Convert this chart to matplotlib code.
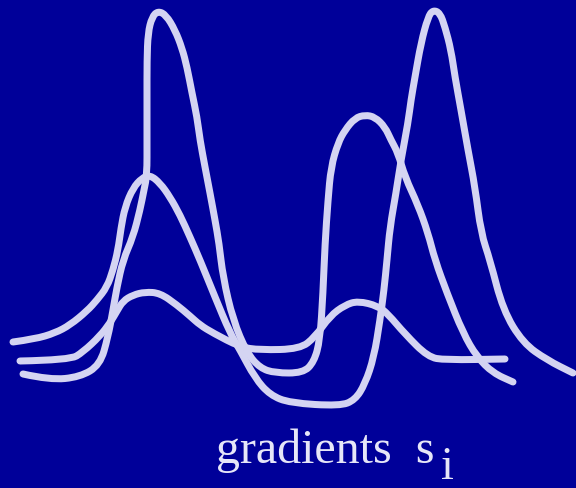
import matplotlib
matplotlib.use("Agg")
import matplotlib.pyplot as plt
from matplotlib.path import Path
from matplotlib.patches import PathPatch

# Three bimodal gradient profiles, heights measured from the bottom edge
low_x = [20, 70, 83, 100, 110, 117, 123, 133, 145, 160, 177, 190, 200, 213, 240, 260,
         300, 315, 330, 345, 358, 378, 388, 405, 428, 445, 505]
low_h = [127, 128, 136, 152, 165, 177, 187, 193, 196, 195, 183, 172, 163, 155, 141, 138,
         139, 151, 172, 183, 187, 182, 174, 154, 131, 128, 129]

mid_x = [13, 35, 55, 70, 87, 97, 107, 113, 118, 121, 125, 133, 142, 150, 160, 170, 180,
         190, 200, 215, 230, 240, 255, 270, 290, 340, 355, 365, 374, 380, 384, 387, 390,
         396, 401, 408, 411, 415, 421, 428, 433, 440, 445, 451, 455, 461, 468, 475, 481,
         490, 503, 523, 547, 573]
mid_h = [146, 149, 155, 163, 177, 188, 201, 218, 238, 260, 281, 300, 310, 313, 305, 291,
         273, 251, 228, 191, 155, 138, 110, 93, 85, 82, 88, 104, 131, 168, 198, 228, 261,
         295, 328, 365, 388, 411, 445, 471, 478, 475, 461, 438, 411, 378, 338, 301, 255,
         228, 178, 145, 128, 115]

tall_x = [23, 50, 80, 100, 108, 113, 117, 123, 133, 140, 144, 147, 147, 147, 147, 148,
          152, 158, 166, 175, 182, 187, 192, 197, 200, 205, 210, 215, 219, 223, 233, 247,
          260, 275, 303, 314, 320, 323, 325, 328, 331, 338, 345, 355, 365, 375, 385, 391,
          398, 405, 418, 428, 435, 447, 463, 477, 493, 513]
tall_h = [114, 108, 111, 123, 151, 178, 201, 228, 251, 278, 298, 313, 348, 388, 428, 455,
          471, 477, 473, 458, 440, 421, 395, 371, 348, 321, 295, 268, 245, 211, 168, 135,
          120, 115, 115, 126, 148, 195, 244, 288, 321, 345, 358, 370, 373, 371, 361, 348,
          335, 311, 283, 255, 228, 195, 155, 131, 115, 106]

label_main = "gradients  s"
label_sub = "i"

bg = "#000099"
ink = "#d4d4f2"


def smooth_path(xs, hs):
    """Quadratic Bezier path: each sample is a control point, midpoints lie on the curve."""
    pts = list(zip(xs, hs))
    verts = [pts[0]]
    codes = [Path.MOVETO]
    for i in range(1, len(pts) - 1):
        mx = (pts[i][0] + pts[i + 1][0]) / 2
        my = (pts[i][1] + pts[i + 1][1]) / 2
        verts += [pts[i], (mx, my)]
        codes += [Path.CURVE3, Path.CURVE3]
    verts.append(pts[-1])
    codes.append(Path.LINETO)
    return Path(verts, codes)


fig = plt.figure(figsize=(576 / 72, 488 / 72), dpi=72, facecolor=bg)
ax = fig.add_axes([0, 0, 1, 1])
ax.set_facecolor(bg)
ax.set_xlim(0, 576)
ax.set_ylim(0, 488)
ax.axis("off")

for xs, hs in [(low_x, low_h), (mid_x, mid_h), (tall_x, tall_h)]:
    ax.add_patch(PathPatch(smooth_path(xs, hs), facecolor="none", edgecolor=ink,
                           lw=7, capstyle="round", joinstyle="round"))

serif = ["Liberation Serif", "DejaVu Serif"]
ax.text(216, 25, label_main, family=serif, fontsize=48, color="#e6e6f8",
        ha="left", va="baseline")
ax.text(441, 9, label_sub, family=serif, fontsize=46, color="#e6e6f8",
        ha="left", va="baseline")

fig.savefig("out.png", dpi=72, facecolor=bg)
